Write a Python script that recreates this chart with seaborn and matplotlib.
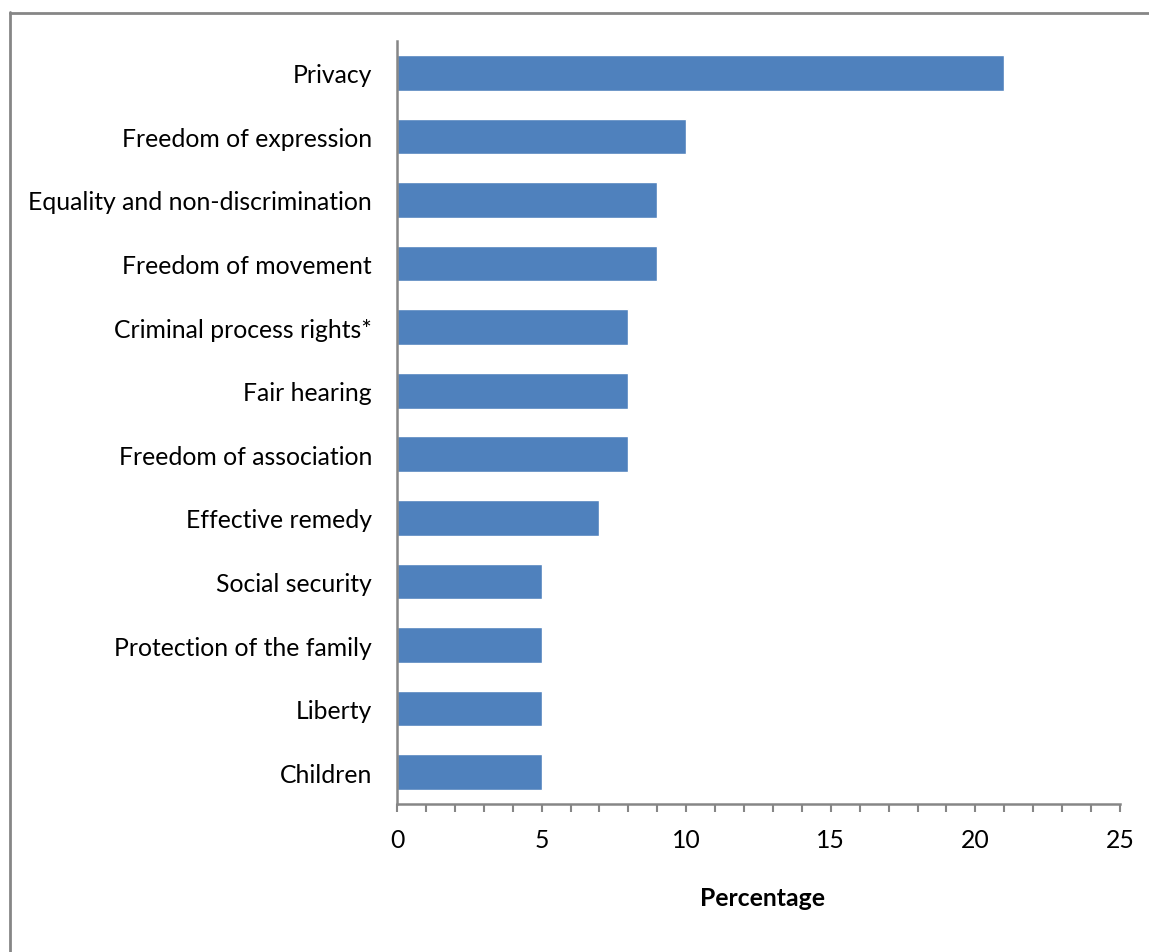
import matplotlib
matplotlib.use("Agg")
import matplotlib.pyplot as plt
import seaborn as sns
import pandas as pd
from matplotlib.lines import Line2D
from matplotlib.ticker import MultipleLocator

categories = ["Privacy", "Freedom of expression", "Equality and non-discrimination",
              "Freedom of movement", "Criminal process rights*", "Fair hearing",
              "Freedom of association", "Effective remedy", "Social security",
              "Protection of the family", "Liberty", "Children"]
values = [21, 10, 9, 9, 8, 8, 8, 7, 5, 5, 5, 5]
x_ticks = [0, 5, 10, 15, 20, 25]
x_label = "Percentage"

sns.set_style("white")
plt.rcParams['font.family'] = ['Lato', 'DejaVu Sans']
plt.rcParams['text.color'] = 'black'
plt.rcParams['axes.labelcolor'] = 'black'
plt.rcParams['xtick.labelcolor'] = 'black'
plt.rcParams['ytick.labelcolor'] = 'black'

df = pd.DataFrame({"cat": categories, "val": values})

fig = plt.figure(figsize=(11.49, 9.53), dpi=100)
ax = fig.add_axes([397/1149, 1 - 805/953, (1120 - 397)/1149, (805 - 42)/953])
sns.barplot(data=df, x="val", y="cat", orient="h", color="#4F81BD",
            saturation=1, width=0.56, ax=ax)

fs = 17.8
gray = "#868686"
ax.set_xlim(0, 25)
ax.set_xticks(x_ticks)
ax.set_xticklabels([str(t) for t in x_ticks], fontsize=fs)
ax.xaxis.set_minor_locator(MultipleLocator(1))
ax.tick_params(axis="x", which="both", direction="out", length=6, width=1.5,
               color=gray, pad=11, bottom=True, labelcolor="black")
ax.tick_params(axis="y", which="both", length=0, pad=18, labelsize=fs,
               labelcolor="black")
for s in ["top", "right"]:
    ax.spines[s].set_visible(False)
for s in ["left", "bottom"]:
    ax.spines[s].set_color(gray)
    ax.spines[s].set_linewidth(1.8)
ax.set_ylabel("")
ax.set_xlabel(x_label, fontsize=fs, fontweight="bold", color="black")
ax.xaxis.set_label_coords(0.505, -0.108)

# outer chart frame (partially cropped)
fw, fh = 1149, 953
fig.add_artist(Line2D([9.5/fw, 9.5/fw], [1 - 13/fh, 0], transform=fig.transFigure,
                      color=gray, lw=2))
fig.add_artist(Line2D([9.5/fw, 1], [1 - 13.5/fh, 1 - 13.5/fh], transform=fig.transFigure,
                      color=gray, lw=2))

fig.savefig("out.png", dpi=100)
